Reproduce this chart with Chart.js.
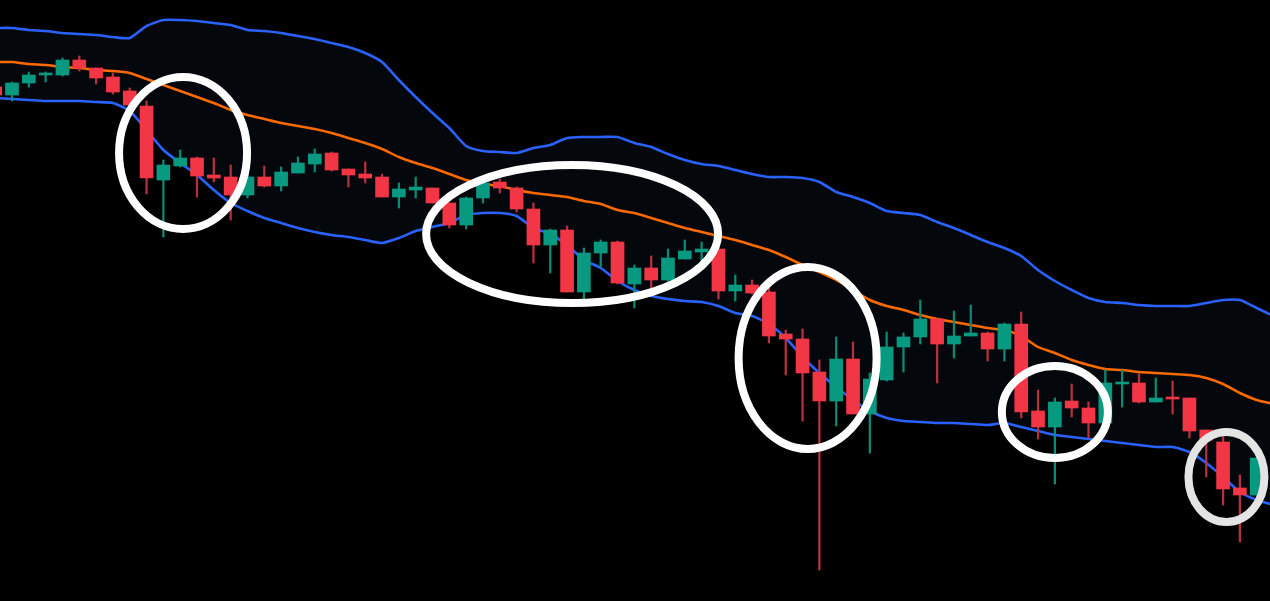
<!DOCTYPE html>
<html>
<head>
<meta charset="utf-8">
<script src="https://cdn.jsdelivr.net/npm/chart.js@4.4.1/dist/chart.umd.min.js"></script>
<style>
  html, body { margin: 0; padding: 0; background: #000; }
  #wrap { width: 1270px; height: 601px; position: relative; }
</style>
</head>
<body>
<div id="wrap"><canvas id="c"></canvas></div>
<script>
// ---- data (price units) ----
const firstIndex = -1;
const opens  = [514,506,518,526,526,541,533,524,510,495,421,435,443,426,424,406,424,415,428,437,448,432,427,424,404,411,413,398,376,403,419,413,392,356,371,309,348,359,317,333,321,342,349,352,310,316,309,267,262,229,200,242,187,221,254,264,282,257,265,268,252,277,190,174,200,193,178,217,218,199,204,203,171,159,113,106];
const highs  = [516,519,529,529,543,545,533,528,513,500,441,451,444,443,436,428,435,434,444,452,449,432,439,427,418,424,413,398,404,418,422,414,398,372,375,353,361,360,336,345,352,361,359,352,326,321,313,271,272,241,264,259,228,269,268,301,282,290,296,269,278,289,211,203,217,199,231,231,227,223,220,203,171,164,126,143];
const lows   = [504,500,514,519,525,530,517,507,495,407,364,434,404,419,381,403,414,410,428,429,430,414,418,404,393,403,398,373,372,398,408,389,338,328,309,302,334,317,293,313,320,342,339,302,300,307,258,226,180,31,175,187,148,220,229,257,218,243,265,240,240,183,162,117,184,163,178,194,198,199,187,163,124,96,59,106];
const closes = [506,518,526,528,541,533,523,509,496,423,436,443,425,423,406,424,415,429,438,447,431,426,423,404,412,414,398,376,403,418,413,392,356,371,309,348,359,318,333,321,343,350,352,310,316,308,265,262,228,200,242,187,222,254,264,282,257,265,268,252,277,189,174,199,193,178,218,218,199,203,202,170,161,112,106,143];

// Bollinger bands, one value per index from -1 to 75
const bandStart = -1;
const upperBand  = [573,573,571,570,568,567,566,564,563,575,581,581,580,578,576,571,570,568,565,562,558,554,548,539,521,504,488,473,455,450,449,448,453,456,463,464,464,464,458,454,447,441,437,435,431,427,424,424,423,419,409,404,398,390,388,386,379,373,366,359,353,345,331,320,311,303,299,298,296,295,295,295,298,301,301,293,285];
const middleBand = [539,539,537,536,534,533,531,530,528,522,516,510,504,498,491,486,482,478,475,472,468,463,458,452,444,438,433,427,421,417,415,411,408,406,404,400,397,391,388,383,378,373,369,365,361,356,351,344,336,329,321,311,301,295,291,286,282,279,276,273,271,265,254,248,241,236,232,231,229,228,227,226,223,217,208,201,197];
const lowerBand  = [503,502,501,500,500,500,499,498,490,471,451,438,426,411,398,390,383,378,373,369,366,364,361,358,363,370,374,378,386,388,388,385,373,367,356,341,333,320,311,305,302,300,299,295,288,285,277,263,244,228,214,201,190,183,180,179,178,178,177,176,178,174,170,166,164,162,160,158,156,154,154,149,138,124,109,101,96];

// Highlight ellipses (center in data units: candle index / price)
const ellipseCenterIdx   = [10.17, 33.3, 47.3, 62.0, 72.2];
const ellipseCenterPrice = [448, 367, 243, 189, 124];

// ---- styles ----
const ellipseStyle = [
  {rx: 64, ry: 76, color: '#ffffff'},
  {rx: 146, ry: 69, color: '#ffffff'},
  {rx: 69, ry: 91, color: '#ffffff'},
  {rx: 53, ry: 46, color: '#ffffff'},
  {rx: 38, ry: 45, color: '#e4e4e4'}
];
const UP = '#089981', DOWN = '#f23645';
const UP_WICK = '#0b8a74', DOWN_WICK = '#b8303f';

const bodies = opens.map((o, k) => ({x: firstIndex + k, y: [o, closes[k]]}));
const wicks  = highs.map((h, k) => ({x: firstIndex + k, y: [lows[k], h]}));
const isUp = opens.map((o, k) => closes[k] >= o);
const toXY = arr => arr.map((v, k) => ({x: bandStart + k, y: v}));

const ellipsePlugin = {
  id: 'ellipses',
  afterDatasetsDraw(chart) {
    const {ctx, scales: {x, y}} = chart;
    ctx.save();
    ellipseCenterIdx.forEach((ci, k) => {
      const s = ellipseStyle[k];
      ctx.beginPath();
      ctx.ellipse(x.getPixelForValue(ci), y.getPixelForValue(ellipseCenterPrice[k]), s.rx, s.ry, 0, 0, Math.PI * 2);
      ctx.lineWidth = 8;
      ctx.strokeStyle = s.color;
      ctx.stroke();
    });
    ctx.restore();
  }
};

const bgPlugin = {
  id: 'bg',
  beforeDraw(chart) {
    const {ctx, width, height} = chart;
    ctx.save();
    ctx.fillStyle = '#000000';
    ctx.fillRect(0, 0, width, height);
    ctx.restore();
  }
};

new Chart(document.getElementById('c'), {
  type: 'bar',
  data: {
    datasets: [
      {
        type: 'line', label: 'Upper', data: toXY(upperBand),
        borderColor: '#2962ff', borderWidth: 2.6, pointRadius: 0,
        fill: {target: 2}, backgroundColor: '#04080d', order: 10, tension: 0.2
      },
      {
        type: 'line', label: 'Basis', data: toXY(middleBand),
        borderColor: '#ff6a00', borderWidth: 2.5, pointRadius: 0,
        fill: false, order: 8, tension: 0.2
      },
      {
        type: 'line', label: 'Lower', data: toXY(lowerBand),
        borderColor: '#2962ff', borderWidth: 2.6, pointRadius: 0,
        fill: false, order: 9, tension: 0.2
      },
      {
        label: 'Wicks', data: wicks, grouped: false,
        backgroundColor: isUp.map(u => u ? UP_WICK : DOWN_WICK),
        barThickness: 1.6, borderWidth: 0, order: 2
      },
      {
        label: 'Bodies', data: bodies, grouped: false,
        backgroundColor: isUp.map(u => u ? UP : DOWN),
        barThickness: 13, minBarLength: 2, borderWidth: 0, borderSkipped: false, order: 1
      }
    ]
  },
  options: {
    responsive: true,
    maintainAspectRatio: false,
    animation: false,
    layout: {padding: 0},
    plugins: {legend: {display: false}, tooltip: {enabled: false}},
    scales: {
      x: {type: 'linear', display: false, min: -0.713, max: 74.79, offset: false, grid: {display: false}},
      y: {type: 'linear', display: false, min: 0, max: 601, grid: {display: false}}
    }
  },
  plugins: [bgPlugin, ellipsePlugin]
});
</script>
</body>
</html>
